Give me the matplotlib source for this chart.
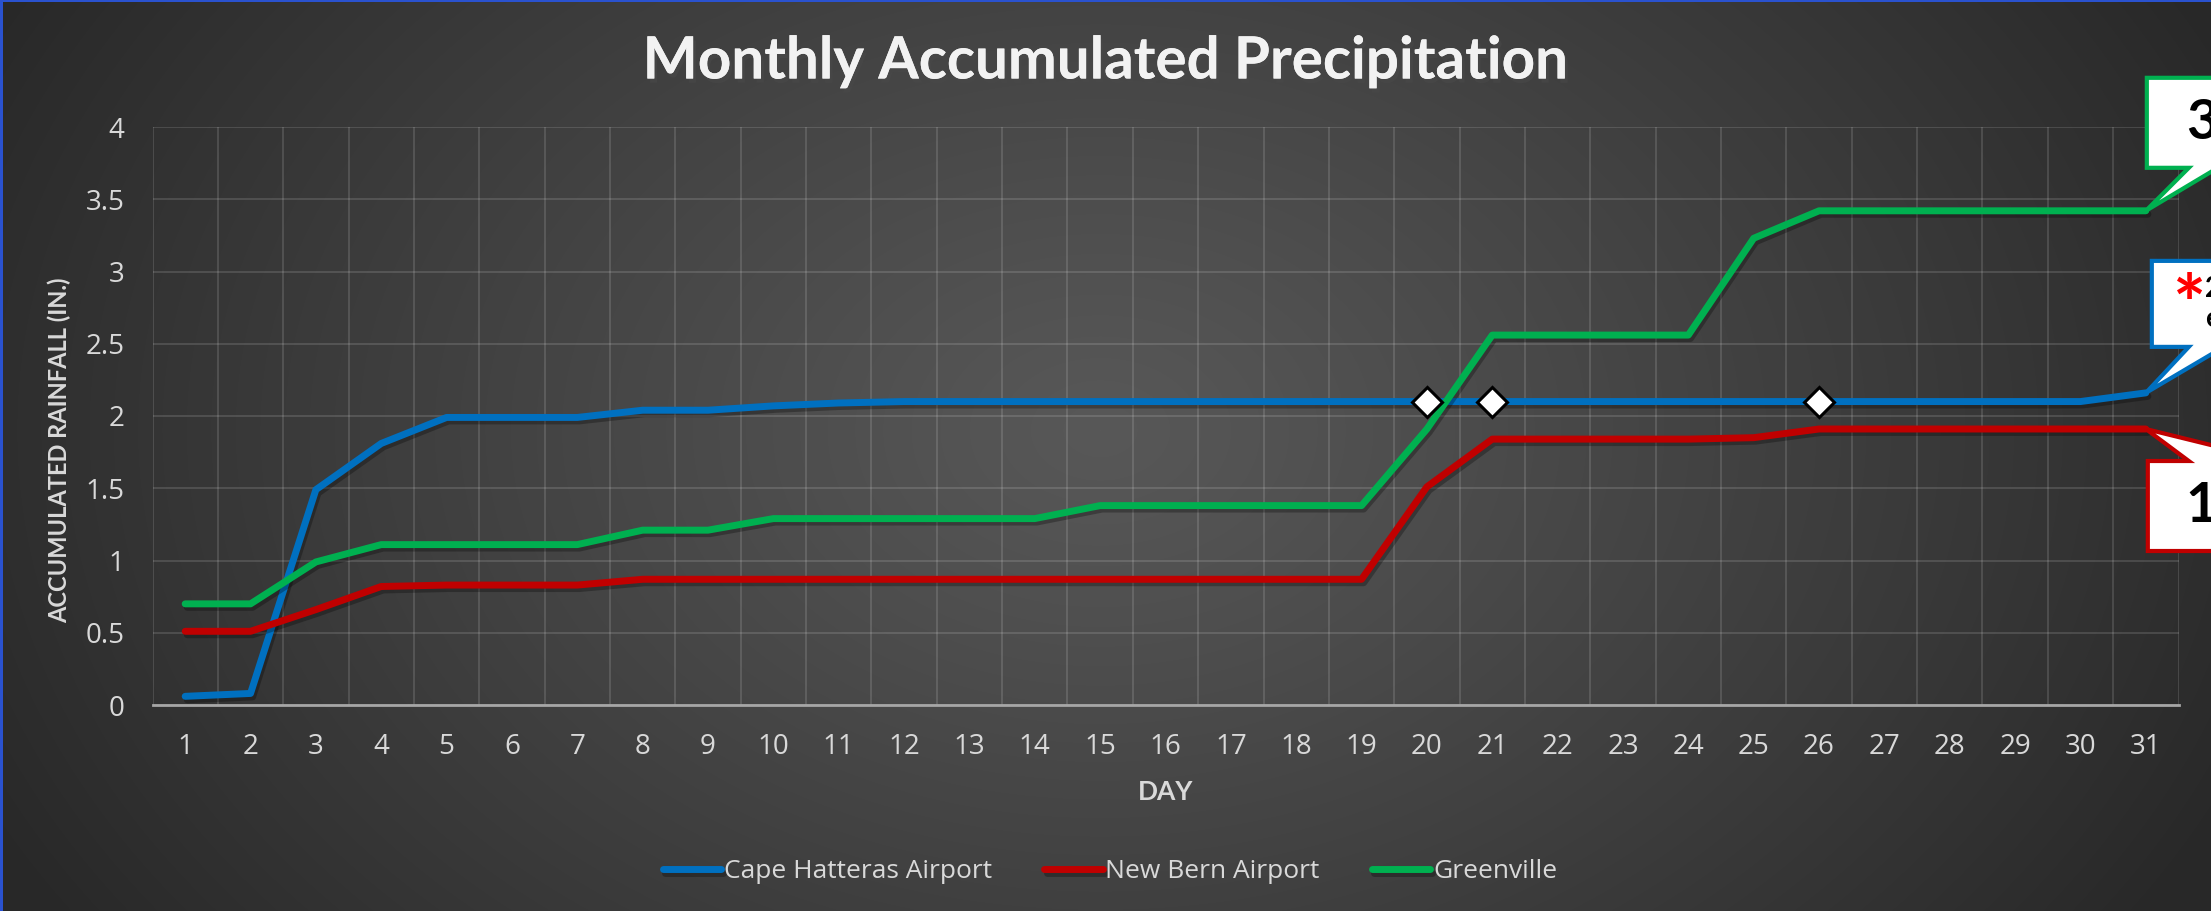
import numpy as np
import matplotlib
matplotlib.use("Agg")
import matplotlib.pyplot as plt
import matplotlib.patheffects as pe
from matplotlib.patches import Polygon, Rectangle
from matplotlib.transforms import IdentityTransform

# daily accumulated rainfall (in.)
days = list(range(1, 32))
cape_hatteras = [0.06, 0.08, 1.49, 1.81, 1.99, 1.99, 1.99, 2.04, 2.04, 2.07,
                 2.09, 2.10, 2.10, 2.10, 2.10, 2.10, 2.10, 2.10, 2.10, 2.10,
                 2.10, 2.10, 2.10, 2.10, 2.10, 2.10, 2.10, 2.10, 2.10, 2.10,
                 2.16]
new_bern = [0.51, 0.51, 0.66, 0.82, 0.83, 0.83, 0.83, 0.87, 0.87, 0.87,
            0.87, 0.87, 0.87, 0.87, 0.87, 0.87, 0.87, 0.87, 0.87, 1.51,
            1.84, 1.84, 1.84, 1.84, 1.85, 1.91, 1.91, 1.91, 1.91, 1.91,
            1.91]
greenville = [0.70, 0.70, 0.99, 1.11, 1.11, 1.11, 1.11, 1.21, 1.21, 1.29,
              1.29, 1.29, 1.29, 1.29, 1.38, 1.38, 1.38, 1.38, 1.38, 1.91,
              2.56, 2.56, 2.56, 2.56, 3.23, 3.42, 3.42, 3.42, 3.42, 3.42,
              3.42]
marker_days = [20, 21, 26]   # diamonds on the Cape Hatteras line
y_ticks = [0, 0.5, 1, 1.5, 2, 2.5, 3, 3.5, 4]

BLUE, RED, GREEN = "#0070C0", "#C00000", "#00B050"
TXT = "#d9d9d9"

fig = plt.figure(figsize=(22.11, 9.11), dpi=100)

# radial grey background
bg = fig.add_axes([0, 0, 1, 1], zorder=-10)
H, W = 911, 2211
yy, xx = np.mgrid[0:H, 0:W]
t = np.sqrt(((xx - 1100) / 1250.0) ** 2 + ((yy - 430) / 900.0) ** 2)
t = np.clip(t, 0, 1) ** 1.1
c = 88 + (40 - 88) * t
bg.imshow(np.dstack([c, c, c]) / 255.0, aspect="auto", extent=[0, 1, 0, 1])
bg.axis("off")
fig.add_artist(Rectangle((0, 0), 3 / W, 1, transform=fig.transFigure, color="#2a52cf", lw=0))
fig.add_artist(Rectangle((0, 1 - 2 / H), 1, 2 / H, transform=fig.transFigure, color="#2a52cf", lw=0))

ax = fig.add_axes([152.5 / W, 1 - 705 / H, 2026 / W, 578 / H])
ax.set_facecolor("none")

shadow = [pe.SimpleLineShadow(offset=(1.5, -2.5), alpha=0.28, shadow_color="black"), pe.Normal()]
ax.plot(days, cape_hatteras, color=BLUE, lw=5, label="Cape Hatteras Airport",
        solid_joinstyle="round", solid_capstyle="round", path_effects=shadow, zorder=3)
ax.plot(days, new_bern, color=RED, lw=5, label="New Bern Airport",
        solid_joinstyle="round", solid_capstyle="round", path_effects=shadow, zorder=3)
ax.plot(days, greenville, color=GREEN, lw=5, label="Greenville",
        solid_joinstyle="round", solid_capstyle="round", path_effects=shadow, zorder=3)
mk = [days.index(d) for d in marker_days]
ax.plot([days[i] for i in mk], [cape_hatteras[i] for i in mk], ls="none", marker="D",
        ms=15, mfc="white", mec="black", mew=2.2, zorder=5)

ax.set_xlim(0.5, 31.5)
ax.set_ylim(0, 4)
ax.set_xticks(days)
ax.set_yticks(y_ticks)
ax.set_yticklabels([f"{v:g}" for v in y_ticks])
ax.set_xticks(np.arange(0.5, 32, 1), minor=True)
ax.grid(False)
ax.grid(True, which="minor", axis="x", color="white", alpha=0.13, lw=1.5)
ax.grid(True, which="major", axis="y", color="white", alpha=0.13, lw=1.5)
ax.tick_params(which="both", length=0)
ax.tick_params(axis="x", pad=20, labelsize=20, labelcolor=TXT)
ax.tick_params(axis="y", pad=20, labelsize=20, labelcolor=TXT)
for lab in ax.get_xticklabels() + ax.get_yticklabels():
    lab.set_family("Open Sans")
for s in ["top", "right", "left"]:
    ax.spines[s].set_visible(False)
ax.spines["bottom"].set_color("#a6a6a6")
ax.spines["bottom"].set_linewidth(2)

ax.set_xlabel("DAY", family="Lato", weight="bold", fontsize=19, color=TXT, labelpad=14)
ax.set_ylabel("ACCUMULATED RAINFALL (IN.)", family="Lato", weight="bold", fontsize=17,
              color=TXT, va="center")
ax.yaxis.set_label_coords(-0.046, 0.44)

fig.text(0.5, 1 - 62 / H, "Monthly Accumulated Precipitation", ha="center", va="center",
         family="Lato", weight="bold", fontsize=42, color="#f2f2f2",
         path_effects=[pe.withSimplePatchShadow(offset=(2, -3), alpha=0.6), pe.Normal()])

leg = fig.legend(loc="center", bbox_to_anchor=(1110 / W, 1 - 872 / H), ncol=3, frameon=False,
                 handlelength=2.2, handletextpad=0.1, columnspacing=2.0,
                 prop={"family": "Open Sans", "size": 19})
for txt in leg.get_texts():
    txt.set_color(TXT)

# callouts at the end of each line (pixel geometry relative to the last point)
fig.canvas.draw()
ID = IdentityTransform()


def callout(val, color, above, left, base0, base1, near, height):
    tx, ty = ax.transData.transform((days[-1], val))
    s = 1 if above else -1
    e = ty + s * near
    f = ty + s * (near + height)
    pts = [(tx + left, e), (tx + base0, e), (tx, ty), (tx + base1, e),
           (tx + 300, e), (tx + 300, f), (tx + left, f)]
    fig.add_artist(Polygon(pts, closed=True, transform=ID, fc="white", ec=color, lw=3,
                           joinstyle="miter", zorder=20))
    return tx, ty, (e + f) / 2


tx, ty, cy = callout(greenville[-1], GREEN, True, 1, 43, 72, 43, 90)
fig.text(tx + 40, cy, f"{greenville[-1]:.2f}", transform=ID, ha="left", va="center",
         family="Lato", weight="bold", fontsize=40, color="black", zorder=21)

tx, ty, cy = callout(cape_hatteras[-1], BLUE, True, 6, 43, 78, 46, 86)
fig.text(tx + 26, ty + 83, "*", transform=ID, ha="left", va="center",
         family="Lato", weight="bold", fontsize=56, color="red", zorder=21)
fig.text(tx + 59, ty + 104, f"{cape_hatteras[-1]:.2f}", transform=ID, ha="left", va="center",
         family="Lato", weight="bold", fontsize=20, color="black", zorder=21)
fig.text(tx + 59, ty + 74, "est.", transform=ID, ha="left", va="center",
         family="Lato", weight="bold", fontsize=20, color="black", zorder=21)

tx, ty, cy = callout(new_bern[-1], RED, False, 2, 43, 130, 32, 90)
fig.text(tx + 40, cy, f"{new_bern[-1]:.2f}", transform=ID, ha="left", va="center",
         family="Lato", weight="bold", fontsize=40, color="black", zorder=21)

fig.savefig("out.png", dpi=100)
